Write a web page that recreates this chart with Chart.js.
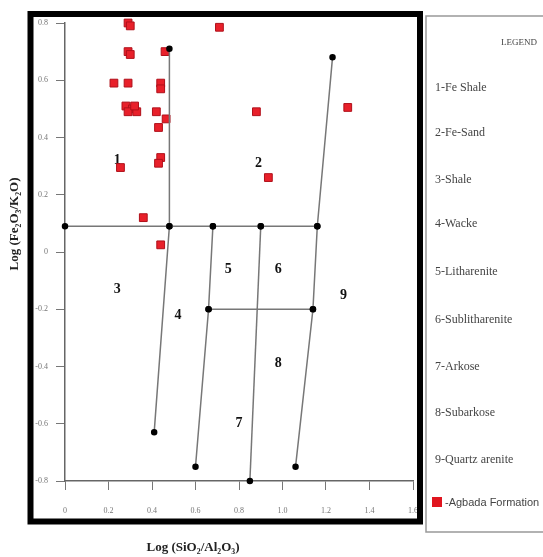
<!DOCTYPE html>
<html>
<head>
<meta charset="utf-8">
<script src="https://cdn.jsdelivr.net/npm/chart.js@4"></script>
<style>
  body { margin: 0; background: #fff; }
</style>
</head>
<body>
<canvas id="chart" width="543" height="557"></canvas>
<script>
const xTickLabels = ["0", "0.2", "0.4", "0.6", "0.8", "1.0", "1.2", "1.4", "1.6"];
const yTickLabels = ["-0.8", "-0.6", "-0.4", "-0.2", "0", "0.2", "0.4", "0.6", "0.8"];

// Agbada Formation samples: log(SiO2/Al2O3), log(Fe2O3/K2O)
const agbadaX = [0.29, 0.30, 0.29, 0.30, 0.225, 0.29, 0.44, 0.44, 0.28, 0.31, 0.33, 0.29, 0.32,
  0.42, 0.465, 0.43, 0.46, 0.255, 0.44, 0.43, 0.36, 0.44, 0.71, 0.88, 0.935, 1.30];
const agbadaY = [0.80, 0.79, 0.70, 0.69, 0.59, 0.59, 0.59, 0.57, 0.51, 0.50, 0.49, 0.49, 0.51,
  0.49, 0.465, 0.435, 0.70, 0.295, 0.33, 0.31, 0.12, 0.025, 0.785, 0.49, 0.26, 0.505];

// Herron (1988) classification boundaries
const lineTop = [[0, 0.09], [0.48, 0.09], [0.68, 0.09], [0.9, 0.09], [1.16, 0.09]];
const lineShale = [[0.48, 0.71], [0.48, 0.09], [0.41, -0.63]];
const lineWacke = [[0.68, 0.09], [0.66, -0.2], [0.6, -0.75]];
const lineArkose = [[0.9, 0.09], [0.85, -0.8]];
const lineQuartz = [[1.23, 0.68], [1.16, 0.09], [1.14, -0.2], [1.06, -0.75]];
const lineMid = [[0.66, -0.2], [1.14, -0.2]];

const zoneNames = ["1", "2", "3", "4", "5", "6", "7", "8", "9"];
const zoneX = [0.24, 0.89, 0.24, 0.52, 0.75, 0.98, 0.80, 0.98, 1.28];
const zoneY = [0.32, 0.31, -0.13, -0.22, -0.06, -0.06, -0.6, -0.39, -0.15];

const legendItems = ["1-Fe Shale", "2-Fe-Sand", "3-Shale", "4-Wacke", "5-Litharenite",
  "6-Sublitharenite", "7-Arkose", "8-Subarkose", "9-Quartz arenite"];

const toPts = (arr) => arr.map((p) => ({ x: p[0], y: p[1] }));

const boundary = (arr) => ({
  data: toPts(arr),
  showLine: true,
  borderColor: "#777",
  borderWidth: 1.5,
  pointBackgroundColor: "#000",
  pointBorderColor: "#000",
  pointRadius: 2.5,
  clip: false,
});

const decor = {
  id: "decor",
  beforeDatasetsDraw(chart) {
    const { ctx, scales } = chart;
    ctx.save();
    ctx.fillStyle = "#111";
    ctx.font = "bold 14px 'Liberation Serif'";
    ctx.textAlign = "center";
    ctx.textBaseline = "middle";
    for (let i = 0; i < zoneNames.length; i++) {
      ctx.fillText(zoneNames[i], scales.x.getPixelForValue(zoneX[i]), scales.y.getPixelForValue(zoneY[i]));
    }
    ctx.restore();
  },
  afterDraw(chart) {
    const ctx = chart.ctx;
    ctx.save();
    // outer frame
    ctx.strokeStyle = "#000";
    ctx.lineWidth = 6;
    ctx.strokeRect(30.5, 14, 389.5, 507.5);
    // legend box
    ctx.strokeStyle = "#999";
    ctx.lineWidth = 1.5;
    ctx.strokeRect(426, 16, 140, 516);

    ctx.fillStyle = "#444";
    ctx.textBaseline = "middle";
    ctx.textAlign = "left";
    ctx.font = "9px 'Liberation Serif'";
    ctx.fillText("LEGEND", 501, 43);
    ctx.font = "12px 'Liberation Serif'";
    const ys = [88, 133, 180, 224, 272, 320, 367, 413, 460];
    legendItems.forEach((t, i) => ctx.fillText(t, 435, ys[i]));
    ctx.fillStyle = "#e0151f";
    ctx.fillRect(432, 497, 10, 10);
    ctx.fillStyle = "#444";
    ctx.font = "11px 'Liberation Sans'";
    ctx.fillText("-Agbada Formation", 445, 503);

    // axis titles
    ctx.fillStyle = "#222";
    ctx.font = "bold 13px 'Liberation Serif'";
    ctx.textAlign = "center";
    ctx.fillText("Log (SiO\u2082/Al\u2082O\u2083)", 193, 548);
    ctx.translate(15, 224);
    ctx.rotate(-Math.PI / 2);
    ctx.fillText("Log (Fe\u2082O\u2083/K\u2082O)", 0, 0);
    ctx.restore();
  },
};

const ctx = document.querySelector("#chart").getContext("2d");

const chart = new Chart(ctx, {
  type: "scatter",
  data: {
    datasets: [
      boundary(lineTop),
      boundary(lineShale),
      boundary(lineWacke),
      boundary(lineArkose),
      boundary(lineQuartz),
      boundary(lineMid),
      {
        data: agbadaX.map((x, i) => ({ x: x, y: agbadaY[i] })),
        pointStyle: "rect",
        pointRadius: 5.5,
        pointBackgroundColor: "#e8202a",
        pointBorderColor: "#b0101a",
        pointBorderWidth: 1,
        clip: false,
      },
    ],
  },
  options: {
    responsive: false,
    animation: false,
    devicePixelRatio: 1,
    layout: { padding: { top: 23, right: 130, left: 0, bottom: 0 } },
    plugins: { legend: { display: false }, tooltip: { enabled: false } },
    scales: {
      x: {
        min: 0,
        max: 1.6,
        afterFit: (scale) => { scale.height = 76; },
        ticks: {
          stepSize: 0.2,
          padding: 16,
          color: "#777",
          font: { family: "Liberation Serif", size: 8 },
          callback: (v, i) => xTickLabels[i],
        },
        grid: { drawOnChartArea: false, tickLength: 9, color: "#777", lineWidth: 1 },
        border: { color: "#666", width: 1.5 },
      },
      y: {
        min: -0.8,
        max: 0.8,
        afterFit: (scale) => { scale.width = 65; },
        ticks: {
          stepSize: 0.2,
          padding: 8,
          color: "#777",
          font: { family: "Liberation Serif", size: 8 },
          callback: (v, i) => yTickLabels[i],
        },
        grid: { drawOnChartArea: false, tickLength: 9, color: "#777", lineWidth: 1 },
        border: { color: "#666", width: 1.5 },
      },
    },
  },
  plugins: [decor],
});
</script>
</body>
</html>
